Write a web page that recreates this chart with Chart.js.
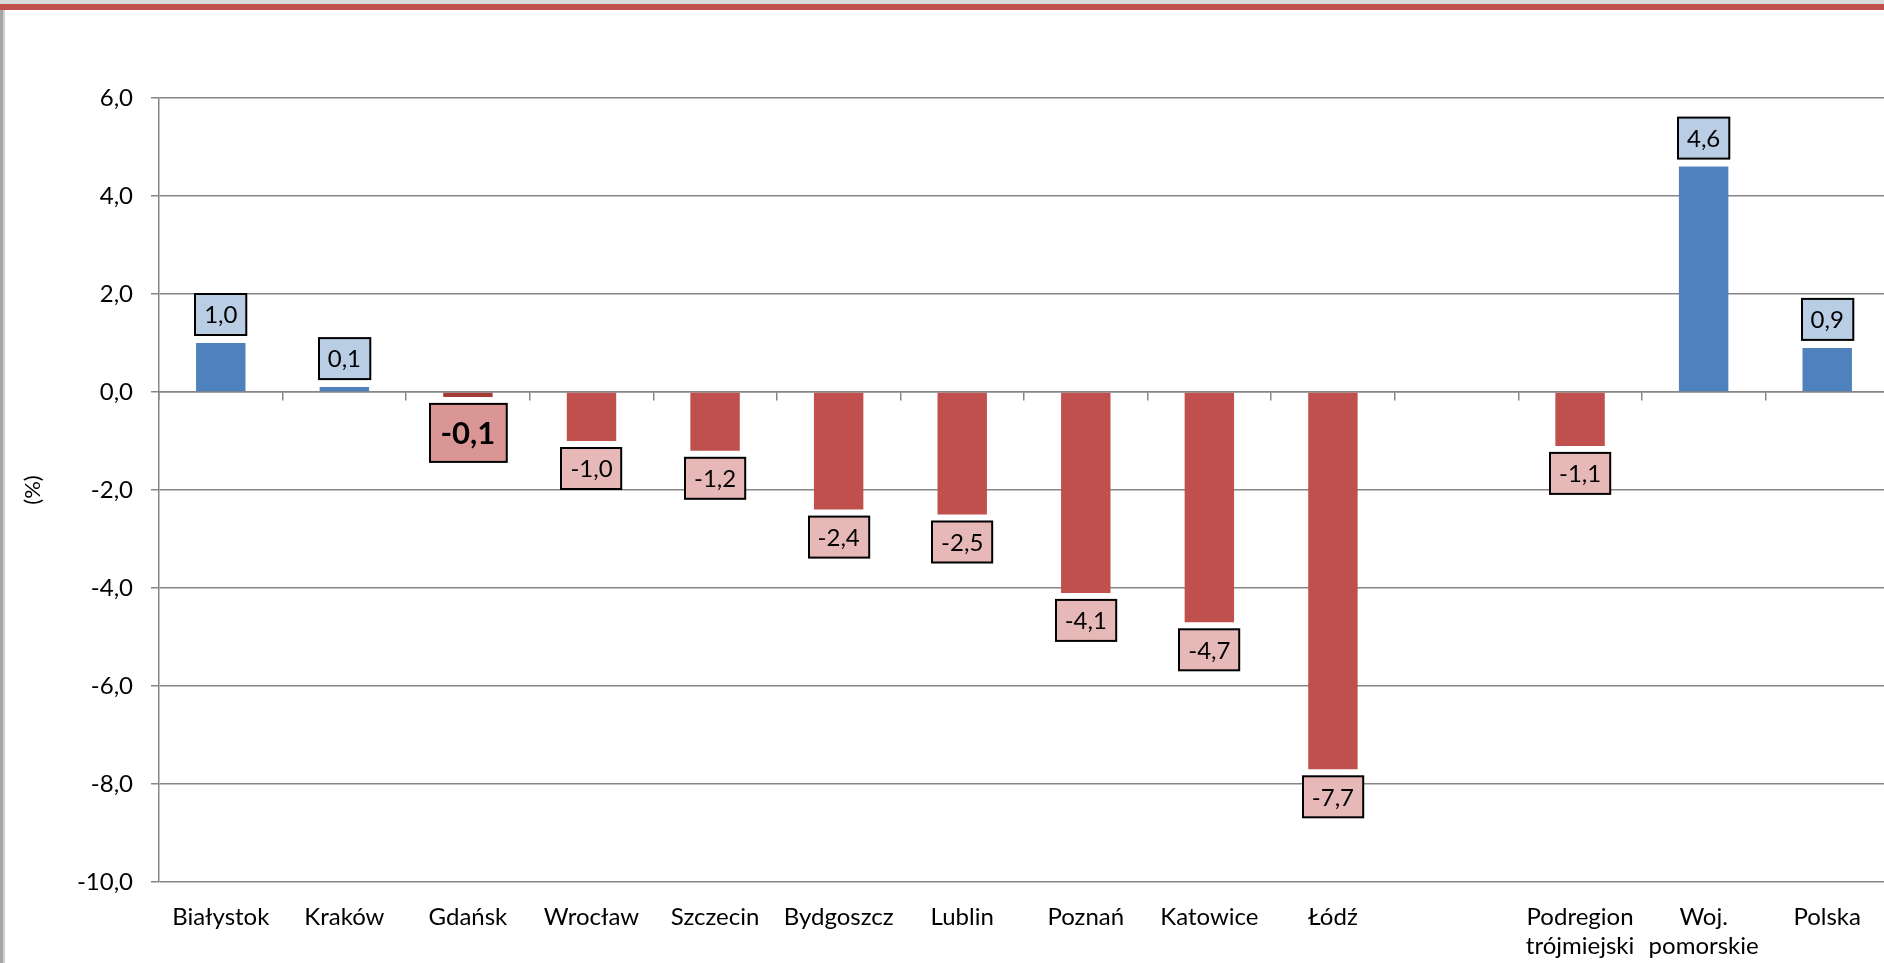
<!DOCTYPE html>
<html>
<head>
<meta charset="utf-8">
<script src="https://cdn.jsdelivr.net/npm/chart.js@4/dist/chart.umd.min.js"></script>
<style>
  body { margin: 0; overflow: hidden; background: #fff; width: 1884px; height: 963px; position: relative; }
  #wrap { position: absolute; left: 0; top: 0; width: 1910px; height: 963px; }
  .top { position: absolute; left: 0; top: 0; width: 1884px; height: 4px; background: #d9d9d9; z-index: 2; }
  .red { position: absolute; left: 0; top: 4px; width: 1884px; height: 6px; background: #c0504d; z-index: 2; }
  .left { position: absolute; left: 0; top: 10px; width: 3px; height: 953px; background: #a6a6a6; border-right: 2px solid #d0d0d0; z-index: 2; }
</style>
</head>
<body>
<div class="top"></div>
<div class="red"></div>
<div class="left"></div>
<div id="wrap"><canvas id="chart"></canvas></div>
<script>
var categories = [
  "Białystok", "Kraków", "Gdańsk", "Wrocław", "Szczecin", "Bydgoszcz",
  "Lublin", "Poznań", "Katowice", "Łódź", "",
  ["Podregion", "trójmiejski"], ["Woj.", "pomorskie"], "Polska"
];
var values = [1.0, 0.1, -0.1, -1.0, -1.2, -2.4, -2.5, -4.1, -4.7, -7.7, null, -1.1, 4.6, 0.9];
var highlight = "Gdańsk";

var gridColor = "#868686";
var blue = "#4F81BD", red = "#C0504D", darkRed = "#A33B37";
var blueBox = "#B9CDE5", redBox = "#E6B9B8", hiBox = "#D99694";
var fontFamily = "Lato, 'Noto Sans', sans-serif";

function fmt(v) {
  return v.toFixed(1).replace(".", ",");
}

var barColors = values.map(function(v, i) {
  if (categories[i] === highlight) return darkRed;
  return v >= 0 ? blue : red;
});

// value boxes drawn at the end of each bar
var valueBoxes = {
  id: "valueBoxes",
  afterDatasetsDraw: function(chart) {
    var c = chart.ctx;
    var meta = chart.getDatasetMeta(0);
    meta.data.forEach(function(bar, i) {
      var v = values[i];
      if (v === null) return;
      var hi = categories[i] === highlight;
      var size = hi ? 31 : 24;
      var h = hi ? 58 : 41;
      c.save();
      c.font = (hi ? "bold " : "") + size + "px " + fontFamily;
      var text = fmt(v);
      var w = c.measureText(text).width + (hi ? 22 : 18);
      var top = v >= 0 ? bar.y - 8 - h : bar.y + 7;
      var left = Math.round(bar.x - w / 2);
      c.fillStyle = hi ? hiBox : (v >= 0 ? blueBox : redBox);
      c.fillRect(left, top, w, h);
      c.lineWidth = 2;
      c.strokeStyle = "#000";
      c.strokeRect(left, top, w, h);
      c.fillStyle = "#000";
      c.textAlign = "center";
      c.textBaseline = "middle";
      c.fillText(text, bar.x, top + h / 2 + 1);
      c.restore();
    });
  }
};

new Chart(document.getElementById("chart"), {
  type: "bar",
  data: {
    labels: categories,
    datasets: [{
      data: values,
      backgroundColor: barColors,
      barPercentage: 0.4,
      categoryPercentage: 1.0
    }]
  },
  options: {
    responsive: true,
    maintainAspectRatio: false,
    animation: false,
    layout: { padding: { top: 98, left: 0, right: 21, bottom: 0 } },
    plugins: {
      legend: { display: false },
      tooltip: { enabled: false }
    },
    scales: {
      x: {
        position: "bottom",
        grid: { display: false, drawTicks: false },
        border: { display: false },
        ticks: {
          color: "#000",
          font: { family: fontFamily, size: 24, lineHeight: 1.2 },
          padding: 21,
          maxRotation: 0,
          autoSkip: false
        },
        afterFit: function(s) { s.height = 81; }
      },
      x2: {
        type: "category",
        labels: categories,
        position: { y: 0 },
        offset: true,
        grid: { offset: true, drawOnChartArea: false, tickLength: 8, color: gridColor, lineWidth: 1.5 },
        border: { color: gridColor, width: 1.5 },
        ticks: { display: false }
      },
      y: {
        min: -10,
        max: 6,
        ticks: {
          stepSize: 2,
          color: "#000",
          padding: 18,
          font: { family: fontFamily, size: 24 },
          callback: function(v) { return fmt(v); }
        },
        grid: { color: gridColor, lineWidth: 1.5, tickLength: 8 },
        border: { color: gridColor, width: 1.5 },
        title: {
          display: true,
          text: "(%)",
          color: "#000",
          font: { family: fontFamily, size: 22 },
          padding: { top: 20, bottom: 0 }
        },
        afterFit: function(s) { s.width = 159; }
      }
    }
  },
  plugins: [valueBoxes]
});
</script>
</body>
</html>
